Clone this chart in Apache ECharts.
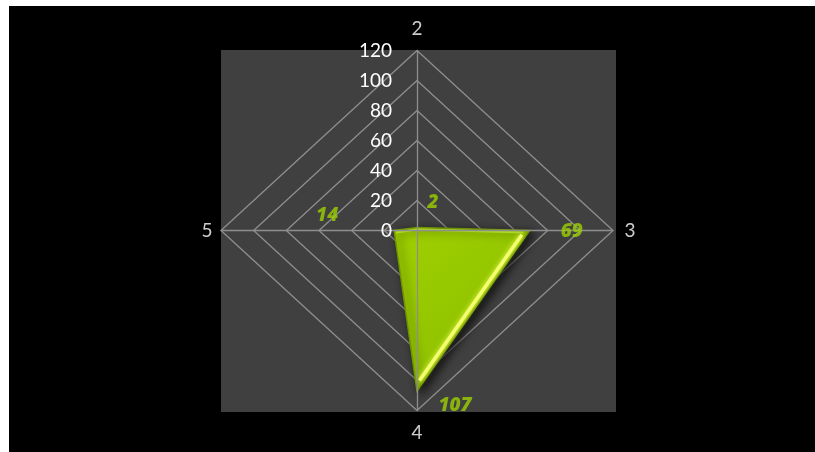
<!DOCTYPE html>
<html>
<head>
<meta charset="utf-8">
<script src="https://cdn.jsdelivr.net/npm/echarts@6/dist/echarts.min.js"></script>
<style>
html,body{margin:0;padding:0;background:#fff;width:815px;height:452px;overflow:hidden;}
#c{position:absolute;left:9px;top:6px;width:806px;height:446px;background:#000;}
</style>
</head>
<body>
<div id="c"></div>
<script>
// ---- data ----
const categories = ['2', '3', '4', '5'];
const values = [2, 69, 107, 14];
const tickValues = [0, 20, 40, 60, 80, 100, 120];
const maxValue = 120;

// ---- helpers (radar-like placement on a cartesian scale) ----
const n = categories.length;
function pt(v, i) {
  const a = Math.PI / 2 - i * 2 * Math.PI / n;
  const r = x => Math.abs(x) < 1e-9 ? 0 : x;
  return [r(v * Math.cos(a)), r(v * Math.sin(a))];
}
const valuePts = values.map((v, i) => pt(v, i));
const namePts = categories.map((c, i) => pt(maxValue, i));

const FONT = 'Lato, "Open Sans", sans-serif';
const VFONT = '"Open Sans", Lato, sans-serif';
const valueLabelOffsets = [[16, -25], [42, 1], [38, 15], [-67, -15]];
const namePositions = [['top', 12], ['right', 11], ['bottom', 12], ['left', 8]];

const ringSeries = tickValues.filter(t => t > 0).map(t => ({
  type: 'line',
  silent: true,
  symbol: 'none',
  z: 1,
  lineStyle: { color: '#8e8e8e', width: 1.3 },
  data: categories.map((c, i) => pt(t, i)).concat([pt(t, 0)])
}));

const chart = echarts.init(document.getElementById('c'), null, { renderer: 'canvas' });

chart.setOption({
  backgroundColor: '#000',
  animation: false,
  graphic: [{
    type: 'rect', z: -10, silent: true,
    shape: { x: 212, y: 44, width: 395, height: 362 },
    style: { fill: '#404040' }
  }],
  grid: { left: 212, top: 44.5, width: 392, height: 360 },
  xAxis: {
    type: 'value', min: -maxValue, max: maxValue, interval: 20, z: 5,
    axisLine: { onZero: true, lineStyle: { color: '#8e8e8e', width: 1.3 } },
    axisTick: { show: false }, axisLabel: { show: false }, splitLine: { show: false }
  },
  yAxis: {
    type: 'value', min: -maxValue, max: maxValue, interval: 20, z: 5,
    position: 'left', offset: -196,
    axisLine: { onZero: false, lineStyle: { color: '#8e8e8e', width: 1.3 } },
    axisTick: { show: false }, splitLine: { show: false },
    axisLabel: {
      color: '#fff', fontSize: 19, fontFamily: FONT, margin: 25,
      formatter: v => (v < 0 ? '' : String(v))
    }
  },
  series: ringSeries.concat([
    {
      type: 'custom',
      z: 3,
      data: valuePts,
      renderItem: function (params, api) {
        if (params.dataIndex !== 0) return null;
        const p = valuePts.map(q => api.coord(q));
        const cx = p.reduce((s, q) => s + q[0], 0) / p.length;
        const cy = p.reduce((s, q) => s + q[1], 0) / p.length;
        const A = p[1], B = p[2];
        let dx = B[0] - A[0], dy = B[1] - A[1];
        const len = Math.hypot(dx, dy);
        let nx = -dy / len, ny = dx / len;
        const mx = (A[0] + B[0]) / 2, my = (A[1] + B[1]) / 2;
        if ((cx - mx) * nx + (cy - my) * ny < 0) { nx = -nx; ny = -ny; }
        const ux = dx / len, uy = dy / len;
        const ins = 4;
        const h1 = [A[0] + nx * ins + ux * 8, A[1] + ny * ins + uy * 8];
        const h2 = [B[0] + nx * ins - ux * 10, B[1] + ny * ins - uy * 10];
        return {
          type: 'group',
          children: [
            {
              type: 'polygon',
              shape: { points: p },
              style: {
                fill: new echarts.graphic.LinearGradient(0, 0, 1, 1, [
                  { offset: 0, color: '#9fd000' },
                  { offset: 0.6, color: '#92c400' },
                  { offset: 1, color: '#80ae00' }
                ]),
                stroke: '#6f9400', lineWidth: 1.5,
                shadowBlur: 10, shadowColor: 'rgba(0,0,0,0.75)',
                shadowOffsetX: 4, shadowOffsetY: 3
              }
            },
            {
              type: 'polyline',
              shape: { points: [h1, h2] },
              style: {
                stroke: '#f6ff70', lineWidth: 3.5, fill: null,
                shadowBlur: 5, shadowColor: '#e8ff50'
              }
            },
            {
              type: 'polyline',
              shape: { points: [[p[3][0] + 2, p[3][1] + 2], [p[0][0], p[0][1] + 2], [p[1][0] - 6, p[1][1] + 2]] },
              style: { stroke: '#b8e030', lineWidth: 2, fill: null, opacity: 0.8 }
            }
          ]
        };
      }
    },
    {
      type: 'scatter',
      z: 6,
      silent: true,
      symbolSize: 1,
      itemStyle: { color: 'rgba(0,0,0,0)' },
      data: valuePts.map((q, i) => ({
        value: q,
        label: { offset: valueLabelOffsets[i] }
      })),
      label: {
        show: true, position: 'inside',
        color: '#9ccf00', fontSize: 19, fontWeight: 800, fontStyle: 'italic', fontFamily: VFONT,
        formatter: p => String(values[p.dataIndex])
      }
    },
    {
      type: 'scatter',
      z: 6,
      silent: true,
      symbolSize: 1,
      itemStyle: { color: 'rgba(0,0,0,0)' },
      data: namePts.map((q, i) => ({
        value: q,
        label: { position: namePositions[i][0], distance: namePositions[i][1] }
      })),
      label: {
        show: true, color: '#fff', fontSize: 19, fontFamily: FONT,
        formatter: p => categories[p.dataIndex]
      }
    }
  ])
});
</script>
</body>
</html>
